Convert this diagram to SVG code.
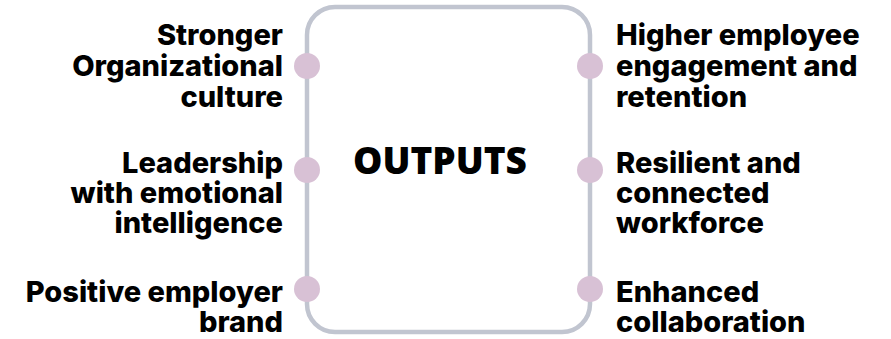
<svg xmlns="http://www.w3.org/2000/svg" width="891" height="339" viewBox="0 0 891 339">
<style>
.lbl{font-family:Inter,"Liberation Sans",sans-serif;font-weight:800;font-size:29px;fill:#000}
.l{text-anchor:end}
.r{text-anchor:start}
.title{font-family:"Open Sans","Liberation Sans",sans-serif;font-weight:800;font-size:37px;fill:#000;text-anchor:middle}
.dot{fill:#d8c1d5}
.frame{fill:none;stroke:#c1c5d0;stroke-width:4.5}
</style>
<g id="connectors">
<rect class="frame" x="307" y="7" width="283" height="325" rx="28" ry="28"/>
</g>
<g id="center">
<text class="title" x="440" y="174">OUTPUTS</text>
</g>
<g id="node-left-1">
<circle class="dot" cx="307" cy="66" r="13"/>
<text class="lbl l" x="283" y="45">Stronger</text>
<text class="lbl l" x="283" y="76">Organizational</text>
<text class="lbl l" x="283" y="107">culture</text>
</g>
<g id="node-left-2">
<circle class="dot" cx="307" cy="170" r="13"/>
<text class="lbl l" x="283" y="173">Leadership</text>
<text class="lbl l" x="283" y="203">with emotional</text>
<text class="lbl l" x="283" y="233">intelligence</text>
</g>
<g id="node-left-3">
<circle class="dot" cx="307" cy="289" r="13"/>
<text class="lbl l" x="283" y="302">Positive employer</text>
<text class="lbl l" x="283" y="332">brand</text>
</g>
<g id="node-right-1">
<circle class="dot" cx="590" cy="66" r="13"/>
<text class="lbl r" x="616" y="45">Higher employee</text>
<text class="lbl r" x="616" y="76">engagement and</text>
<text class="lbl r" x="616" y="107">retention</text>
</g>
<g id="node-right-2">
<circle class="dot" cx="590" cy="170" r="13"/>
<text class="lbl r" x="616" y="173">Resilient and</text>
<text class="lbl r" x="616" y="203">connected</text>
<text class="lbl r" x="616" y="233">workforce</text>
</g>
<g id="node-right-3">
<circle class="dot" cx="590" cy="289" r="13"/>
<text class="lbl r" x="616" y="302">Enhanced</text>
<text class="lbl r" x="616" y="332">collaboration</text>
</g>
</svg>
